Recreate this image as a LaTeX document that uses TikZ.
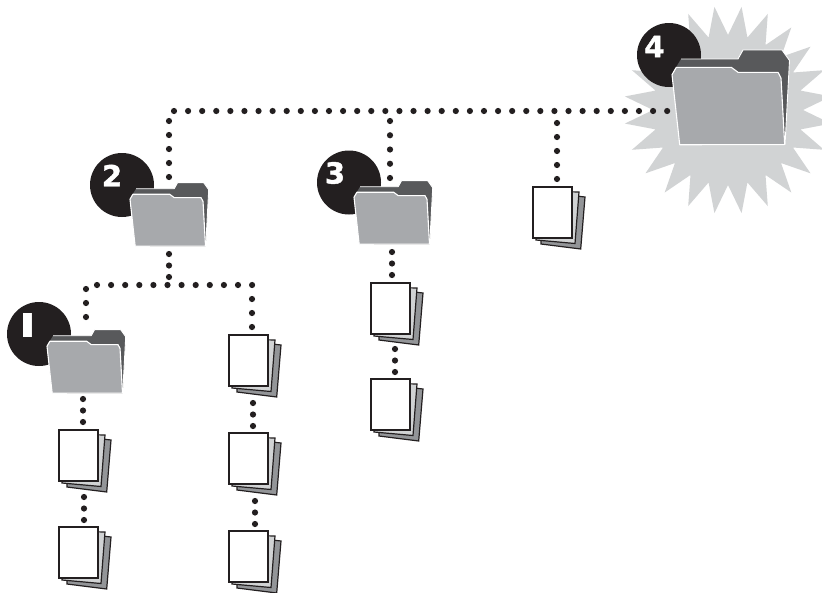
\documentclass[tikz,border=0pt]{standalone}
\usepackage{fontspec}
\newfontfamily\digitfont{DejaVu Sans}[BoldFeatures={FakeBold=1.5}]
\newfontfamily\onefont{Open Sans}
\definecolor{ink}{HTML}{231F20}
\definecolor{burstgray}{HTML}{D1D3D4}
\definecolor{tabdark}{HTML}{58595B}
\definecolor{frontgray}{HTML}{A7A9AC}
\definecolor{pagemid}{HTML}{D1D3D4}
\definecolor{pageback}{HTML}{939598}
\tikzset{
  dots/.style={line width=6.2pt,line cap=round,draw=ink,dash pattern=on 0pt off #1pt},
  dots/.default=14.09,
  badge/.style={circle,fill=ink,minimum size=64pt,inner sep=0pt},
  digit/.style={text=white,inner sep=0pt,font=\digitfont\bfseries\fontsize{29}{29}\selectfont},
  pagesheet/.style={draw=ink,line width=1.2pt,line join=miter},
  folder/.pic={
    \fill[tabdark] (9,10)--(66,10)--(71,1)--(110,1)--(117.5,11.5)--(113,96)--(30,96)--(0,25)--cycle;
    \draw[white,line width=0.9pt,line join=round] (9,10)--(66,10)--(71,1)--(110,1)--(117.5,11.5)--(113,96);
    \filldraw[fill=frontgray,draw=white,line width=1.1pt,line join=round]
      (0,25.7)--(4.3,18.3)--(59.3,18.3)--(66,23.3)--(106,23.3)--(109,29)--(112.7,95.7)--(7.7,95.7)--cycle;
  },
  document/.pic={
    \filldraw[pagesheet,fill=pageback] (8,5)--(52,10)--(47.7,62)--(8,57)--cycle;
    \filldraw[pagesheet,fill=pagemid] (4,4)--(46,5)--(42,56.5)--(3,53)--cycle;
    \filldraw[pagesheet,fill=white] (0,0) rectangle (39,51);
  }
}
\begin{document}
\begin{tikzpicture}[x=1pt,y=-1pt]
\clip (0,0) rectangle (822,592);
\fill[white] (0,0) rectangle (822,592);
% starburst
\begin{scope}[shift={(728,110)}]
\fill[burstgray] (0:75)
  \foreach \a in {0,15,...,345} { -- (\a:75) -- (\a+7.5:104) } -- cycle;
\end{scope}
% badges
\node[badge] (b4) at (669,55) {};
\node[badge] (b2) at (122,185) {};
\node[badge] (b3) at (349,182.5) {};
\node[badge] (b1) at (39,334) {};
\node[digit] (n4) at (654.5,46.5) {4};
\node[digit] (n2) at (112,175.5) {2};
\node[digit] (n3) at (335,173) {3};
\begin{scope}
\clip (23,313) rectangle (31,336);
\node[text=white,inner sep=0pt,font=\onefont\bfseries\fontsize{70}{70}\selectfont,anchor=base] (n1) at (23.9,340) {1};
\end{scope}
% folders and documents
\pic[scale=1] (f4) at (672,49) {folder};
\pic[scale=.67] (f2) at (130,182) {folder};
\pic[scale=.67] (f3) at (354,180) {folder};
\pic[scale=.67] (f1) at (47,329) {folder};
\pic (d0) at (533,187) {document};
\pic (d3a) at (371,283) {document};
\pic (d3b) at (371,379) {document};
\pic (d2a) at (229,335) {document};
\pic (d2b) at (229,433) {document};
\pic (d2c) at (229,531) {document};
\pic (d1a) at (59,430) {document};
\pic (d1b) at (59,527) {document};
% connector ends
\coordinate (t0) at (174,111);   \coordinate (t1) at (667.3,111);
\coordinate (f2t0) at (169,121); \coordinate (f2t1) at (169,177.3);
\coordinate (f3t0) at (390,121); \coordinate (f3t1) at (390,178.3);
\coordinate (d0t0) at (557,123); \coordinate (d0t1) at (557,179.3);
\coordinate (f2b0) at (169,254); \coordinate (f2b1) at (169,277.3);
\coordinate (s0) at (97,285);    \coordinate (s1) at (252.3,285);
\coordinate (f1t0) at (86,289);  \coordinate (f1t1) at (86,317.3);
\coordinate (d2t0) at (252,299); \coordinate (d2t1) at (252,327.3);
\coordinate (f1b0) at (83,399);  \coordinate (f1b1) at (83,422.3);
\coordinate (d1m0) at (84,497);  \coordinate (d1m1) at (84,520.3);
\coordinate (d2m0) at (253,403); \coordinate (d2m1) at (253,426.3);
\coordinate (d2n0) at (255,501); \coordinate (d2n1) at (255,524.3);
\coordinate (f3b0) at (392,252); \coordinate (f3b1) at (392,275.3);
\coordinate (d3m0) at (395,349); \coordinate (d3m1) at (395,372.3);
% connectors
\draw[dots] (t0) -- (t1);
\draw[dots=14] (f2t0) -- (f2t1);
\draw[dots=14.25] (f3t0) -- (f3t1);
\draw[dots=14] (d0t0) -- (d0t1);
\draw[dots=11.5] (f2b0) -- (f2b1);
\draw[dots=14.1] (s0) -- (s1);
\draw[dots=14] (f1t0) -- (f1t1);
\draw[dots=14] (d2t0) -- (d2t1);
\draw[dots=11.5] (f1b0) -- (f1b1);
\draw[dots=11.5] (d1m0) -- (d1m1);
\draw[dots=11.5] (d2m0) -- (d2m1);
\draw[dots=11.5] (d2n0) -- (d2n1);
\draw[dots=11.5] (f3b0) -- (f3b1);
\draw[dots=11.5] (d3m0) -- (d3m1);
\end{tikzpicture}
\end{document}
